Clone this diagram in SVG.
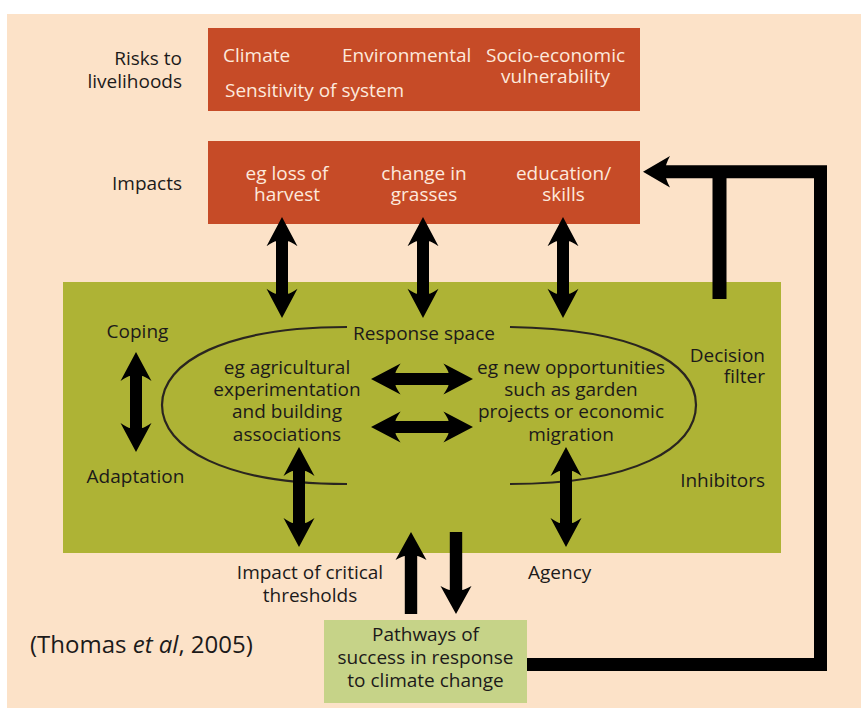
<svg xmlns="http://www.w3.org/2000/svg" xmlns:xlink="http://www.w3.org/1999/xlink" width="861" height="709" viewBox="0 0 861 709">
<style>
  .t { font-family: "Open Sans", "Liberation Sans", sans-serif; font-size: 19px; fill: #1c1a1a; }
  .w { fill: #fde9dc; }
  .m { text-anchor: middle; }
  .e { text-anchor: end; }
  .red { fill: #c64b27; }
  .curve { fill: none; stroke: #2a2520; stroke-width: 2.2; }
  .arr { fill: #000; }
  .line { fill: none; stroke: #000; stroke-width: 13; stroke-linejoin: miter; stroke-linecap: butt; }
</style>
<defs>
  <path id="dbl" d="M0,0 L15.5,29 Q8,24 6,24 L6,76 Q8,76 15.5,71 L0,100 L-15.5,71 Q-8,76 -6,76 L-6,24 Q-8,24 -15.5,29 Z"/>
  <path id="sgl" d="M0,0 L15.5,28 Q8,24 6.2,24 L6.2,82 L-6.2,82 L-6.2,24 Q-8,24 -15.5,28 Z"/>
</defs>
<rect x="7" y="14" width="854" height="694" fill="#fce2c8"/>

<g id="risks">
  <rect class="red" x="208" y="28" width="432" height="83"/>
  <text class="t e" x="182" y="65">Risks to</text>
  <text class="t e" x="182" y="88">livelihoods</text>
  <text class="t w" x="223" y="62">Climate</text>
  <text class="t w" x="342" y="62">Environmental</text>
  <text class="t w m" x="555.5" y="62">Socio-economic</text>
  <text class="t w m" x="555.5" y="83">vulnerability</text>
  <text class="t w" x="225" y="97">Sensitivity of system</text>
</g>

<g id="impacts">
  <rect class="red" x="208" y="141" width="432" height="83"/>
  <text class="t e" x="182" y="190">Impacts</text>
  <text class="t w m" x="287" y="180">eg loss of</text>
  <text class="t w m" x="287" y="201">harvest</text>
  <text class="t w m" x="424" y="180">change in</text>
  <text class="t w m" x="424" y="201">grasses</text>
  <text class="t w m" x="563.5" y="180">education/</text>
  <text class="t w m" x="563.5" y="201">skills</text>
</g>

<g id="response-space">
  <rect x="63" y="282" width="718" height="271" fill="#aeb335"/>
  <path class="curve" d="M347,327 C225,327 162,362 162,405 C162,448 225,484 347,484"/>
  <path class="curve" d="M510,327 C635,329 696,362 696,405 C696,448 635,484 510,484"/>
  <text class="t m" x="424" y="340">Response space</text>
  <text class="t m" x="137.5" y="338">Coping</text>
  <text class="t m" x="135.5" y="483">Adaptation</text>
  <text class="t e" x="765" y="362">Decision</text>
  <text class="t e" x="765" y="383">filter</text>
  <text class="t e" x="765" y="487">Inhibitors</text>
</g>

<g id="agricultural">
  <text class="t m" x="287" y="374">eg agricultural</text>
  <text class="t m" x="287" y="396">experimentation</text>
  <text class="t m" x="287" y="418">and building</text>
  <text class="t m" x="287" y="441">associations</text>
</g>

<g id="opportunities">
  <text class="t m" x="571" y="374">eg new opportunities</text>
  <text class="t m" x="571" y="396">such as garden</text>
  <text class="t m" x="571" y="418">projects or economic</text>
  <text class="t m" x="571" y="441">migration</text>
</g>

<g id="thresholds">
  <text class="t m" x="310" y="579">Impact of critical</text>
  <text class="t m" x="310" y="602">thresholds</text>
</g>

<g id="agency">
  <text class="t" x="528" y="579">Agency</text>
</g>

<g id="pathways">
  <rect x="324" y="620" width="203" height="83" fill="#c6d388"/>
  <text class="t m" x="425.5" y="641">Pathways of</text>
  <text class="t m" x="425.5" y="664">success in response</text>
  <text class="t m" x="425.5" y="687">to climate change</text>
</g>

<g id="citation">
  <text class="t" x="30" y="653" style="font-size:24px">(Thomas <tspan font-style="italic">et al</tspan>, 2005)</text>
</g>

<g id="connectors">
  <use href="#dbl" class="arr" transform="translate(282,217) scale(1,1.01)"/>
  <use href="#dbl" class="arr" transform="translate(423,217) scale(1,1.01)"/>
  <use href="#dbl" class="arr" transform="translate(563,217) scale(1,1.01)"/>
  <use href="#dbl" class="arr" transform="translate(136,352)"/>
  <use href="#dbl" class="arr" transform="translate(299,447)"/>
  <use href="#dbl" class="arr" transform="translate(566,447)"/>
  <use href="#dbl" class="arr" transform="translate(371,379) rotate(-90) scale(1,1.02)"/>
  <use href="#dbl" class="arr" transform="translate(371,427) rotate(-90) scale(1,1.02)"/>
  <use href="#sgl" class="arr" transform="translate(411,532)"/>
  <use href="#sgl" class="arr" transform="translate(456,614) rotate(180)"/>
  <polyline class="line" points="527,664.5 820.5,664.5 820.5,171.7 665,171.7"/>
  <line class="line" x1="719.5" y1="171.7" x2="719.5" y2="299" style="stroke-width:14"/>
  <path class="arr" d="M643,171.7 L670,156 Q665,165 665,171.7 Q665,178 670,187.5 Z"/>
</g>
</svg>
